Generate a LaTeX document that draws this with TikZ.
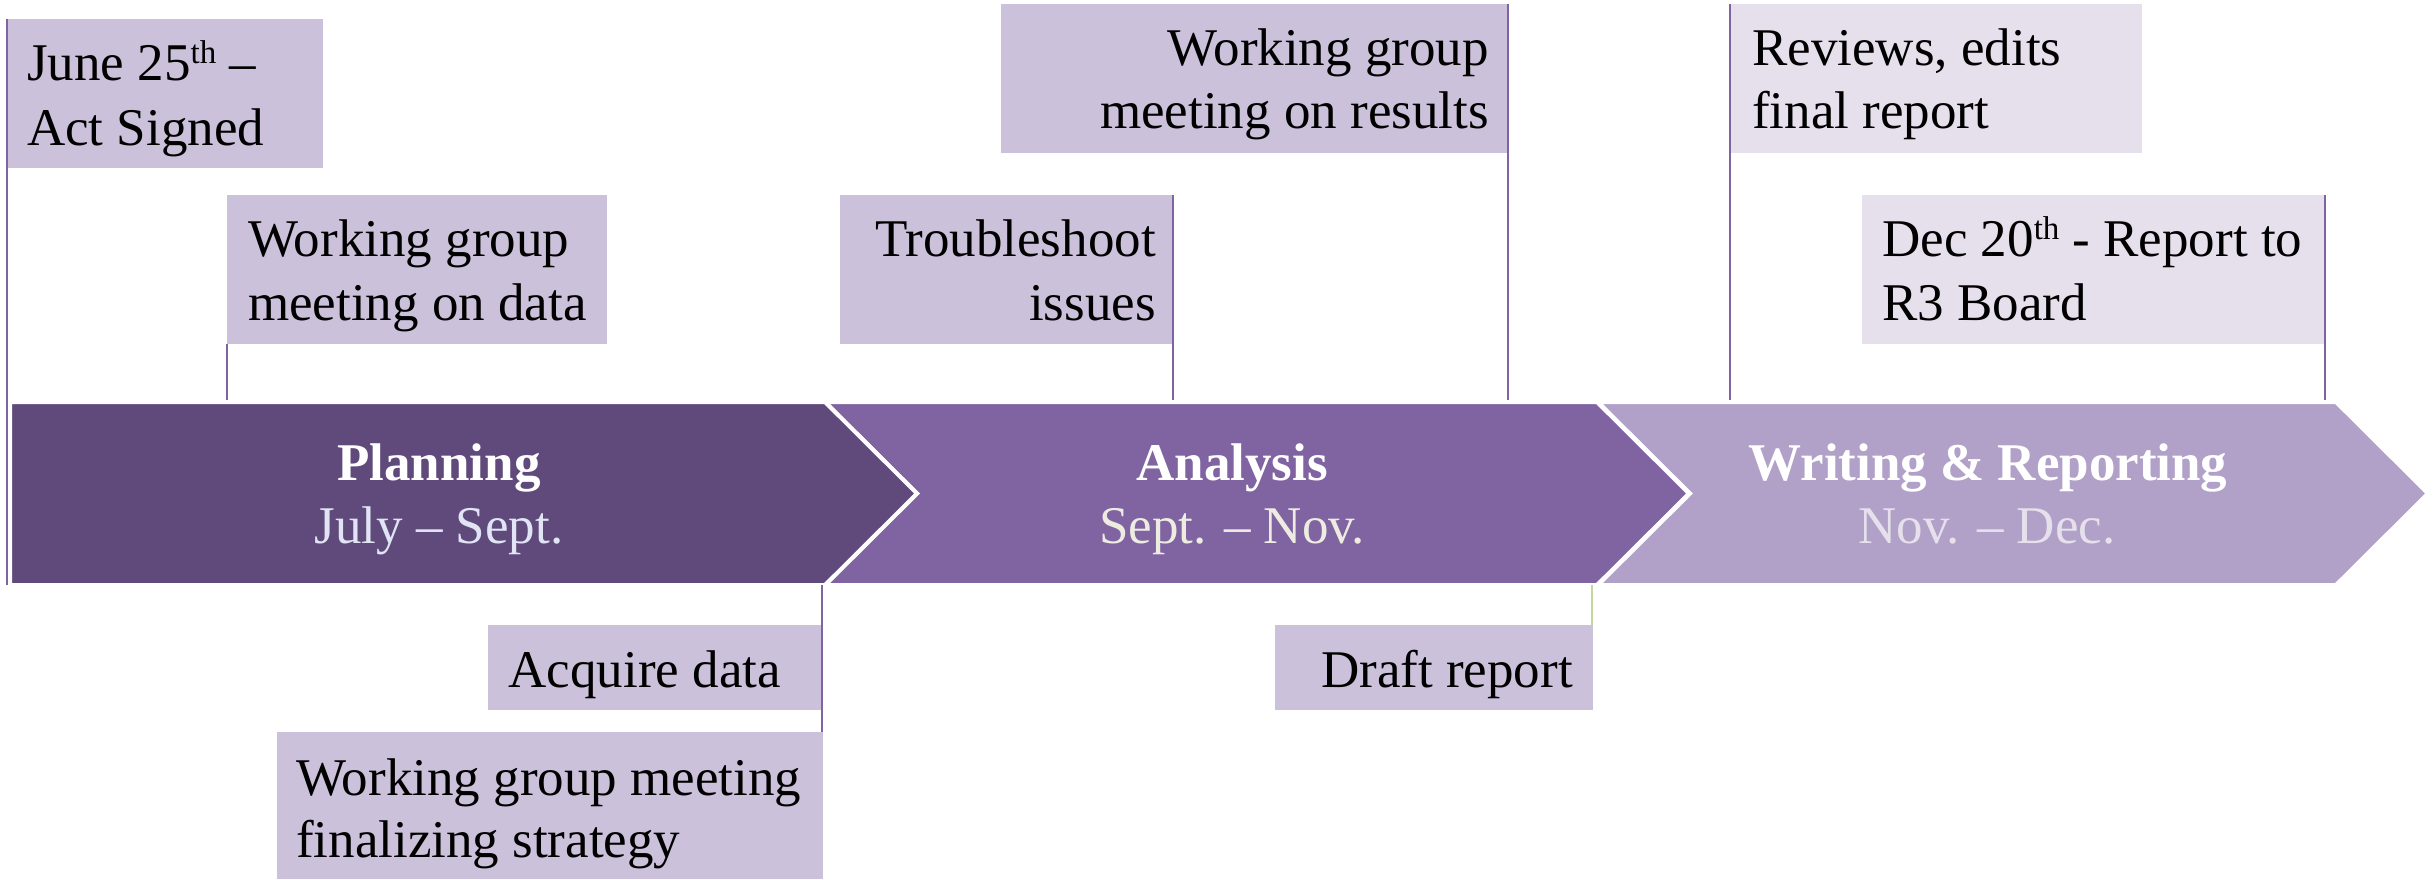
\documentclass[tikz,border=0pt]{standalone}
\usepackage{fontspec}
\setmainfont{Liberation Serif}
\definecolor{planc}{HTML}{604A7B}
\definecolor{analc}{HTML}{8064A2}
\definecolor{writc}{HTML}{B1A0C7}
\definecolor{boxc}{HTML}{CCC1DA}
\definecolor{boxlight}{HTML}{E5E0EC}
\definecolor{julyc}{HTML}{E0E4F4}
\definecolor{septc}{HTML}{EEECE1}
\definecolor{novc}{HTML}{E5E0EC}
\definecolor{linec}{HTML}{8064A2}
\definecolor{greenc}{HTML}{C3D69B}
\newcommand{\supth}[1]{\raisebox{17pt}{\fontsize{33}{33}\selectfont #1}}
\tikzset{
  chev/.style={draw=white, line width=4pt, line join=miter},
  evbox/.style={fill=boxc, draw=none, inner sep=0pt, anchor=north west},
  evlight/.style={evbox, fill=boxlight},
  txt/.style={inner sep=0pt, font=\fontsize{53}{64}\selectfont, text=black},
  phasetitle/.style={inner sep=0pt, anchor=base, font=\fontsize{53}{64}\selectfont\bfseries, text=white},
  phasedate/.style={inner sep=0pt, anchor=base, font=\fontsize{53}{64}\selectfont},
  conn/.style={draw=linec, line width=2pt},
  conngreen/.style={draw=greenc, line width=2pt}
}
\begin{document}
\begin{tikzpicture}[x=1pt,y=-1pt]
\useasboundingbox (0,0) rectangle (2435,879);

% chevrons
\path[chev, fill=writc] (1598,402) -- (2336,402) -- (2428,493.5) -- (2336,585) -- (1598,585) -- (1690,493.5) -- cycle;
\path[chev, fill=analc] (825,402) -- (1597,402) -- (1689,493.5) -- (1597,585) -- (825,585) -- (917,493.5) -- cycle;
\path[chev, fill=planc] (10,402) -- (825,402) -- (917,493.5) -- (825,585) -- (10,585) -- cycle;

\coordinate (bandtop) at (0,400);
\coordinate (bandbot) at (0,585);

% phase labels
\node[phasetitle] (plant) at (439,480) {Planning};
\node[phasedate, text=julyc] (pland) at (439,543) {July – Sept.};
\node[phasetitle] (analt) at (1232,480) {Analysis};
\node[phasedate, text=septc] (anald) at (1232,543) {Sept. – Nov.};
\node[phasetitle] (writt) at (1988,480) {Writing \& Reporting};
\node[phasedate, text=novc] (writd) at (1987,543) {Nov. – Dec.};

% event boxes
\node[evbox, minimum width=316pt, minimum height=149pt] (b1) at (7,19) {};
\node[txt, anchor=base west] (b1a) at (27,80) {June 25\supth{th} –};
\node[txt, anchor=base west] (b1b) at (27,145) {Act Signed};

\node[evbox, minimum width=380pt, minimum height=149pt] (b2) at (227,195) {};
\node[txt, anchor=base west] (b2a) at (248,256) {Working group};
\node[txt, anchor=base west] (b2b) at (248,320) {meeting on data};

\node[evbox, minimum width=334pt, minimum height=149pt] (b3) at (840,195) {};
\node[txt, anchor=base east] (b3a) at (1156,256) {Troubleshoot};
\node[txt, anchor=base east] (b3b) at (1156,320) {issues};

\node[evbox, minimum width=508pt, minimum height=149pt] (b4) at (1001,4) {};
\node[txt, anchor=base east] (b4a) at (1489,65) {Working group};
\node[txt, anchor=base east] (b4b) at (1489,128) {meeting on results};

\node[evlight, minimum width=412pt, minimum height=149pt] (b5) at (1730,4) {};
\node[txt, anchor=base west] (b5a) at (1752,65) {Reviews, edits};
\node[txt, anchor=base west] (b5b) at (1752,128) {final report};

\node[evlight, minimum width=463pt, minimum height=149pt] (b6) at (1862,195) {};
\node[txt, anchor=base west] (b6a) at (1882,256) {Dec 20\supth{th} - Report to};
\node[txt, anchor=base west] (b6b) at (1882,320) {R3 Board};

\node[evbox, minimum width=335pt, minimum height=85pt] (b7) at (488,625) {};
\node[txt, anchor=base east] (b7a) at (781,687) {Acquire data};

\node[evbox, minimum width=546pt, minimum height=147pt] (b8) at (277,732) {};
\node[txt, anchor=base west] (b8a) at (296,795) {Working group meeting};
\node[txt, anchor=base west] (b8b) at (296,857) {finalizing strategy};

\node[evbox, minimum width=318pt, minimum height=85pt] (b9) at (1275,625) {};
\node[txt, anchor=base east] (b9a) at (1573,687) {Draft report};

% connectors
\draw[conn] (b1.north west) -- (b1.north west |- bandbot);
\draw[conn] (b2.south west) -- (b2.south west |- bandtop);
\draw[conn] ([xshift=-1pt]b3.north east) -- ([xshift=-1pt]b3.north east |- bandtop);
\draw[conn] ([xshift=-1pt]b4.north east) -- ([xshift=-1pt]b4.north east |- bandtop);
\draw[conn] (b5.north west) -- (b5.north west |- bandtop);
\draw[conn] (b6.north east) -- (b6.north east |- bandtop);
\draw[conn] ([xshift=-1pt]b8.north east |- bandbot) -- ([xshift=-1pt]b8.north east);
\draw[conngreen] ([xshift=-1pt]b9.north east |- bandbot) -- ([xshift=-1pt]b9.north east);
\end{tikzpicture}
\end{document}
